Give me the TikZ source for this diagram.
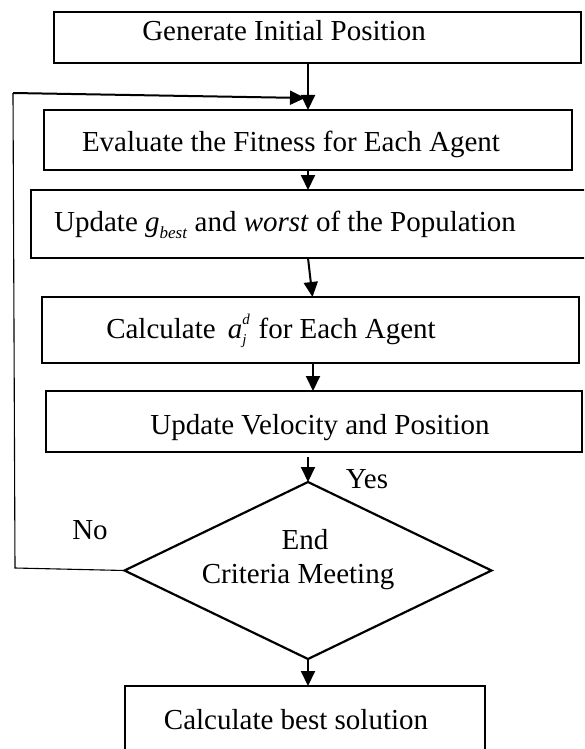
\documentclass[tikz,border=0pt]{standalone}
\usepackage{fontspec}
\setmainfont{Liberation Serif}
\usetikzlibrary{shapes.geometric,arrows.meta}
\begin{document}
\begin{tikzpicture}[x=1pt,y=-1pt,
  box/.style={draw, line width=2.2pt, rectangle, inner sep=0pt, outer sep=0pt},
  dia/.style={draw, line width=2.2pt, diamond, inner sep=0pt, outer sep=0pt},
  txt/.style={anchor=base, inner sep=0pt, font=\fontsize{29}{34}\selectfont},
  arr/.style={line width=2pt, -{Triangle[length=15pt,width=14pt]}},
  thinline/.style={line width=1.1pt}]
\useasboundingbox (0,0) rectangle (584,749);
\clip (0,0) rectangle (584,749);
\fill[white] (0,0) rectangle (584,749);
% boxes
\node[box, minimum width=527pt, minimum height=51pt] (b1) at (317.5,37.5) {};
\node[box, minimum width=528pt, minimum height=60pt] (b2) at (308,140) {};
\node[box, minimum width=559pt, minimum height=68pt] (b3) at (310.5,224) {};
\node[box, minimum width=537pt, minimum height=66pt] (b4) at (310.5,330) {};
\node[box, minimum width=536pt, minimum height=61pt] (b5) at (314,421.5) {};
\node[dia, minimum width=367pt, minimum height=177pt] (d) at (308,570.5) {};
\node[box, minimum width=360pt, minimum height=84pt] (b6) at (305,728) {};
% texts
\node[txt] (t1) at (284,41) {Generate Initial Position};
\node[txt] (t2) at (291,151) {Evaluate the Fitness for Each Agent};
\node[txt] (t3) at (285,231) {Update \textit{g}\raisebox{-7pt}{\fontsize{17}{17}\selectfont\textit{best}} and \textit{worst} of the Population};
\node[txt] (t4) at (271,338) {Calculate \,\textit{a}\rlap{\raisebox{14pt}{\fontsize{15}{15}\selectfont\textit{d}}}\raisebox{-6pt}{\fontsize{15}{15}\selectfont\textit{j}}\, for Each Agent};
\node[txt] (t5) at (320,434) {Update Velocity and Position};
\node[txt] (t6a) at (305,549) {End};
\node[txt] (t6b) at (298,583) {Criteria Meeting};
\node[txt] (no) at (90,539) {No};
\node[txt] (yes) at (367,488) {Yes};
\node[txt] (t7) at (296,729) {Calculate best solution};
% connectors
\draw[arr] (b1.south -| b2.north) -- (b2.north);
\draw[arr] (b2.south) -- (b2.south |- b3.north);
\draw[arr] (b3.south -| b2.south) -- ([xshift=2pt]b4.north);
\draw[arr] ([xshift=2.5pt]b4.south) -- ([xshift=2.5pt]b4.south |- b5.north);
\draw[arr] ([yshift=-5pt]b5.south -| d.north) -- (d.north);
\draw[arr] (d.south) -- (d.south |- b6.north);
% loop back
\coordinate (lb) at (15,568);
\coordinate (lt) at (13,93);
\coordinate (tip) at (305,98);
\draw[thinline] (d.west) -- (lb) -- (lt);
\draw[arr] (lt) -- (tip);
\end{tikzpicture}
\end{document}
